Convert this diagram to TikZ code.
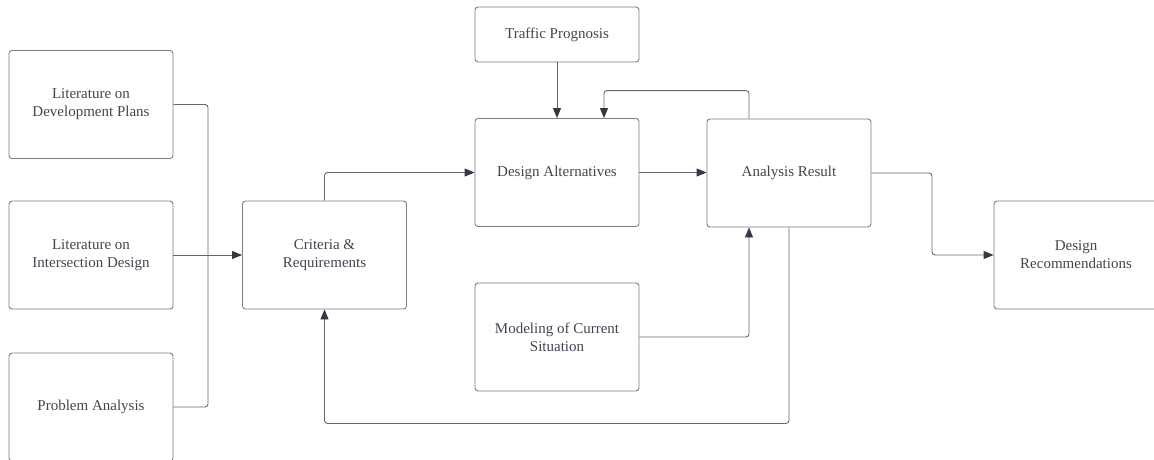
\documentclass[tikz,border=0pt]{standalone}
\usepackage{fontspec}
\setmainfont{Liberation Serif}
\usetikzlibrary{arrows.meta}
\definecolor{boxline}{HTML}{7A7C80}
\definecolor{wire}{HTML}{64686E}
\definecolor{ink}{HTML}{41454F}
\definecolor{tipfill}{HTML}{333844}

\begin{document}
\begin{tikzpicture}[x=1pt,y=-1pt,
  stage/.style={draw=boxline, line width=0.9pt, rounded corners=3pt,
    minimum width=164pt, minimum height=108pt, align=center, text=ink,
    font=\fontsize{15}{18}\selectfont, inner sep=0pt},
  link/.style={draw=wire, line width=0.9pt, rounded corners=3pt},
  flow/.style={link, -{Triangle[length=10pt,width=8pt,color=tipfill]}}
]
\useasboundingbox (0,0) rectangle (1154,459);

% process boxes
\node[stage] (ldp) at (91,104.5) {Literature on\\Development Plans};
\node[stage] (lid) at (91,255) {Literature on\\Intersection Design};
\node[stage] (pa)  at (91,407) {Problem Analysis};
\node[stage] (cr)  at (324.5,255) {Criteria \&\\Requirements};
\node[stage, minimum height=55pt] (tp) at (557,34.5) {Traffic Prognosis};
\node[stage] (da)  at (557,172.5) {Design Alternatives};
\node[stage] (ar)  at (789,173) {Analysis Result};
\node[stage] (mc)  at (557,337) {Modeling of Current\\Situation};
\node[stage] (dr)  at (1076,255) {Design\\Recommendations};

% helper points for the elbows
\coordinate (j) at (208,255);
\coordinate (k) at (932,0);

% literature and problem analysis feed the criteria
\draw[link] (ldp.east) -| (j);
\draw[link] (pa.east) -| (j);
\draw[flow] (lid.east) -- (cr.west);

% main flow
\draw[flow] (cr.north) |- (da.west);
\draw[flow] (tp.south) -- (da.north);
\draw[flow] (da.east) -- (da.east -| ar.west);
\draw[flow] ([xshift=-40pt]ar.north) -- ++(0,-28) -| ([xshift=47pt]da.north);
\draw[flow] (mc.east) -| ([xshift=-40pt]ar.south);
\draw[flow] (ar.east) -- (ar.east -| k) |- (dr.west);
\draw[flow] (ar.south) -- ++(0,196) -| (cr.south);
\end{tikzpicture}
\end{document}
